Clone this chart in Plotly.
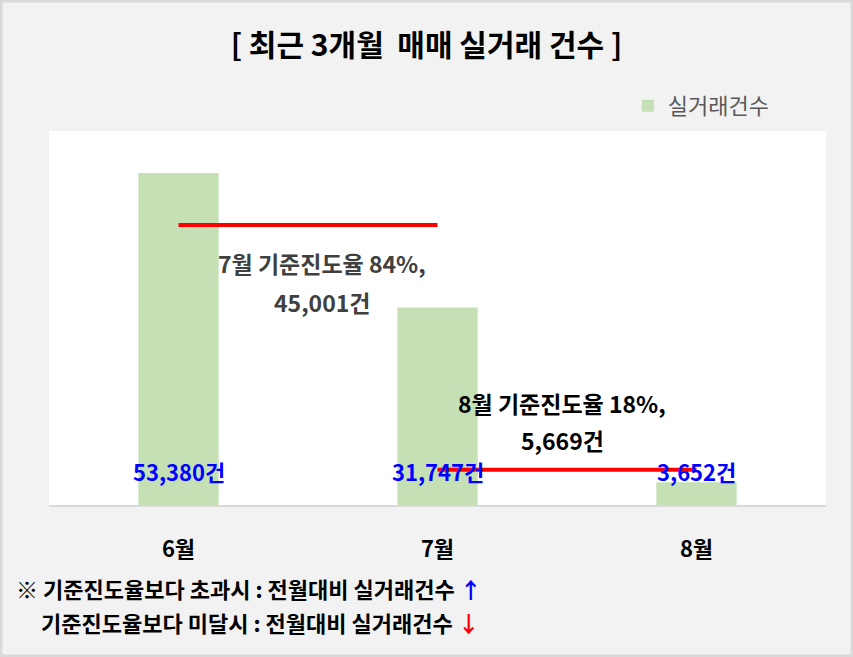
import plotly.graph_objects as go

# data
months = ['6월', '7월', '8월']
deals = [53380, 31747, 3652]
deal_labels = ['53,380건', '31,747건', '3,652건']

# 기준진도율 reference lines (from month -> next month)
ref_july_x = ['6월', '7월']
ref_july_y = [45001, 45001]
ref_aug_x = ['7월', '8월']
ref_aug_y = [5669, 5669]

FONT = 'Noto Sans CJK KR'

fig = go.Figure()

fig.add_trace(go.Bar(
    x=months, y=deals, name='실거래건수',
    marker=dict(color='#c5e0b4', line=dict(width=0)),
    width=0.31,
))

for xs, ys in [(ref_july_x, ref_july_y), (ref_aug_x, ref_aug_y)]:
    fig.add_trace(go.Scatter(
        x=xs, y=ys, mode='lines', showlegend=False, hoverinfo='skip',
        line=dict(color='#ff0000', width=4),
    ))

# blue count labels near the bottom of each bar
for m, lab in zip(months, deal_labels):
    fig.add_annotation(x=m, y=0.042, xref='x', yref='paper', text='<b>' + lab + '</b>',
                       showarrow=False, font=dict(family=FONT, size=22, color='#0000ff'))

# progress-rate annotations
fig.add_annotation(x=0.5, y=0.646, xref='x', yref='paper',
                   text='<b>7월 기준진도율 84%,</b>', showarrow=False,
                   xshift=14, font=dict(family=FONT, size=23, color='#404040'))
fig.add_annotation(x=0.5, y=0.543, xref='x', yref='paper',
                   text='<b>45,001건</b>', showarrow=False,
                   xshift=14, font=dict(family=FONT, size=23, color='#404040'))
fig.add_annotation(x=1.5, y=0.222, xref='x', yref='paper',
                   text='<b>8월 기준진도율 18%,</b>', showarrow=False,
                   xshift=-5, font=dict(family=FONT, size=23, color='#000000'))
fig.add_annotation(x=1.5, y=0.124, xref='x', yref='paper',
                   text='<b>5,669건</b>', showarrow=False,
                   xshift=-5, font=dict(family=FONT, size=23, color='#000000'))

# footnotes
fig.add_annotation(x=-0.045, y=-0.27, xref='paper', yref='paper', xanchor='left',
                   text="<b>※ 기준진도율보다 초과시 : 전월대비 실거래건수 <span style='color:#0000ff'>↑</span></b>",
                   showarrow=False, font=dict(family=FONT, size=22, color='#000000'))
fig.add_annotation(x=-0.013, y=-0.362, xref='paper', yref='paper', xanchor='left',
                   text="<b>기준진도율보다 미달시 : 전월대비 실거래건수 <span style='color:#ff0000'>↓</span></b>",
                   showarrow=False, font=dict(family=FONT, size=22, color='#000000'))

# outer border
fig.add_shape(type='rect', xref='paper', yref='paper',
              x0=-0.0618, x1=1.0335, y0=-0.4037, y1=1.3476,
              line=dict(color='#d9d9d9', width=3), fillcolor='rgba(0,0,0,0)', layer='below')

fig.update_layout(
    width=853, height=657,
    margin=dict(l=49, r=27, t=131, b=152),
    paper_bgcolor='#f2f2f2', plot_bgcolor='#ffffff',
    font=dict(family=FONT),
    title=dict(text='<b>[ 최근 3개월  매매 실거래 건수 ]</b>', x=0.5, xanchor='center',
               y=1 - 45 / 657, yanchor='middle',
               font=dict(family=FONT, size=30, color='#000000')),
    showlegend=True,
    legend=dict(x=0.745, y=1.067, xanchor='left', yanchor='middle', bgcolor='rgba(0,0,0,0)',
                font=dict(family=FONT, size=22, color='#595959')),
    bargap=0.69,
)
fig.update_xaxes(showline=True, linecolor='#d9d9d9', linewidth=2, ticks='',
                 ticklabelstandoff=24, tickfont=dict(family=FONT, size=22, color='#000000'),
                 tickprefix='<b>', ticksuffix='</b>')
fig.update_yaxes(range=[0, 60133], visible=False, showgrid=False)

# page has a default body margin; drop it so the figure sits at 0,0
fig.write_html('out.html', config={'displayModeBar': False},
               post_script="document.body.style.margin='0';")
